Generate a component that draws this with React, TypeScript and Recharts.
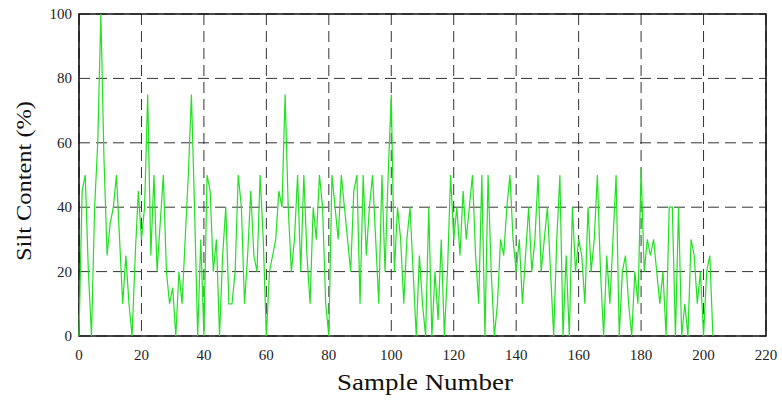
import { FC } from "react";
import {
  LineChart,
  Line,
  CartesianGrid,
  XAxis,
  YAxis,
  ReferenceArea,
} from "recharts";

// silt content per sample, sample numbers start at 0
const siltContent: number[] = [
  0, 45, 50, 20, 0, 40, 60, 100, 55, 25, 35, 40, 50, 30, 10, 25, 10, 0, 25, 45,
  30, 40, 75, 25, 50, 20, 35, 50, 20, 10, 15, 0, 20, 10, 30, 50, 75, 40, 0, 30,
  0, 50, 45, 20, 30, 0, 25, 40, 10, 10, 20, 50, 40, 10, 25, 45, 25, 20, 50, 30,
  0, 20, 25, 30, 45, 40, 75, 40, 20, 30, 50, 20, 50, 25, 10, 40, 30, 50, 40, 10,
  0, 50, 40, 30, 50, 40, 30, 20, 45, 50, 10, 50, 25, 40, 50, 30, 10, 50, 20, 50,
  75, 20, 40, 30, 10, 30, 40, 20, 0, 25, 10, 0, 40, 0, 20, 5, 30, 0, 20, 50,
  30, 40, 25, 45, 30, 40, 50, 25, 10, 50, 0, 50, 20, 0, 10, 30, 25, 40, 50, 30,
  20, 30, 10, 25, 40, 20, 30, 50, 20, 30, 40, 20, 0, 30, 50, 0, 25, 0, 40, 20,
  30, 25, 10, 40, 20, 30, 50, 20, 0, 25, 10, 30, 50, 0, 20, 25, 10, 0, 20, 10,
  52, 20, 30, 25, 30, 20, 10, 20, 0, 40, 40, 0, 40, 0, 10, 0, 30, 25, 10, 20,
  0, 20, 25, 0,
];

const xTicks = [0, 20, 40, 60, 80, 100, 120, 140, 160, 180, 200, 220];
const yTicks = [0, 20, 40, 60, 80, 100];

const data = siltContent.map((silt, i) => ({ sample: i, silt }));

const font = "Liberation Serif";

const XTick = (props: any) => {
  const { x, y, payload } = props;
  return (
    <text
      x={x}
      y={y + 16}
      textAnchor="middle"
      fill="#222"
      fontSize={15}
      fontFamily={font}
    >
      {payload.value}
    </text>
  );
};

const YTick = (props: any) => {
  const { x, y, payload } = props;
  return (
    <text
      x={x + 1}
      y={y + 5}
      textAnchor="end"
      fill="#222"
      fontSize={15}
      fontFamily={font}
    >
      {payload.value}
    </text>
  );
};

const SiltChart: FC = () => {
  return (
    <div
      style={{
        position: "absolute",
        left: 0,
        top: 0,
        width: 782,
        height: 401,
        background: "#fff",
      }}
    >
      <LineChart
        width={782}
        height={401}
        data={data}
        margin={{ top: 14, right: 16, left: 0, bottom: 15 }}
      >
        <CartesianGrid
          strokeDasharray="11 6"
          stroke="#333"
          strokeWidth={1}
          horizontalValues={yTicks}
          verticalValues={xTicks}
        />
        <XAxis
          dataKey="sample"
          type="number"
          domain={[0, 220]}
          ticks={xTicks}
          height={50}
          tickLine={false}
          axisLine={false}
          tick={XTick}
        />
        <YAxis
          type="number"
          domain={[0, 100]}
          ticks={yTicks}
          width={79}
          tickLine={false}
          axisLine={false}
          tick={YTick}
        />
        <Line
          type="linear"
          dataKey="silt"
          stroke="#22e022"
          strokeWidth={1.2}
          dot={false}
          isAnimationActive={false}
        />
        <ReferenceArea
          x1={0}
          x2={220}
          y1={0}
          y2={100}
          fill="none"
          stroke="#111"
          strokeWidth={1.6}
          ifOverflow="visible"
        />
        <text
          x={425}
          y={390}
          textAnchor="middle"
          fill="#111"
          fontSize={24}
          fontFamily={font}
          textLength={176}
          lengthAdjust="spacingAndGlyphs"
        >
          Sample Number
        </text>
        <text
          x={0}
          y={0}
          transform="translate(31 181) rotate(-90)"
          textAnchor="middle"
          fill="#111"
          fontSize={21}
          fontFamily={font}
          textLength={160}
          lengthAdjust="spacingAndGlyphs"
        >
          Silt Content (%)
        </text>
      </LineChart>
    </div>
  );
};

export default function App() {
  return <SiltChart />;
}
